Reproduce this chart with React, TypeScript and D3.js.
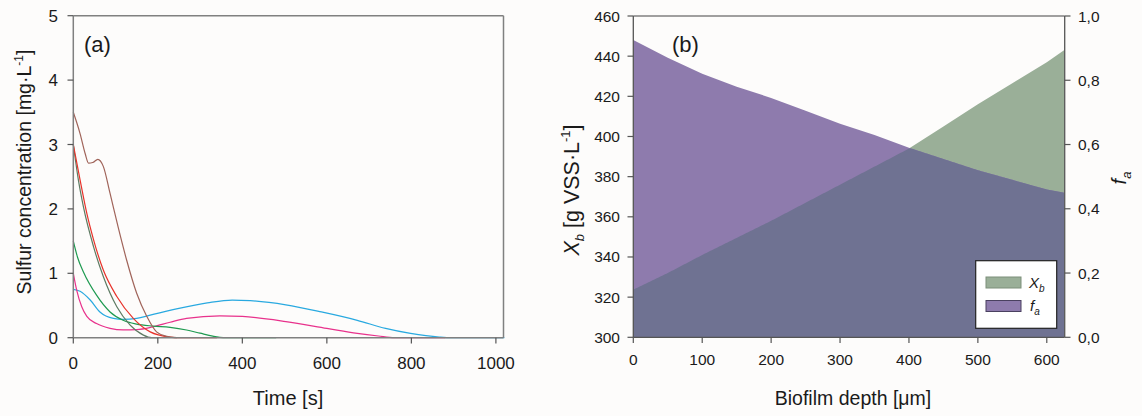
import React from "react";
import * as d3 from "d3";

// ---------- Panel (a) data ----------
const brownT = [0, 16, 28, 36, 46, 58, 71, 87, 106, 126, 150, 174, 197, 221, 245];
const brownC = [3.5, 3.17, 2.86, 2.71, 2.72, 2.77, 2.66, 2.24, 1.72, 1.21, 0.69, 0.33, 0.09, 0.02, 0];
const redT = [0, 16, 32, 48, 71, 103, 142, 182, 228, 250, 340];
const redC = [3.0, 2.45, 1.93, 1.52, 1.05, 0.64, 0.3, 0.09, 0.01, 0, 0];
const oliveT = [0, 12, 24, 48, 71, 103, 134, 166, 185, 200];
const oliveC = [3.0, 2.45, 2.03, 1.41, 0.95, 0.48, 0.2, 0.04, 0, 0];
const greenT = [0, 10, 24, 55, 87, 118, 150, 189, 229, 268, 300, 330, 355, 480];
const greenC = [1.5, 1.25, 1.02, 0.66, 0.4, 0.27, 0.21, 0.18, 0.16, 0.12, 0.07, 0.025, 0, 0];
const pinkT = [0, 8, 20, 32, 55, 87, 118, 150, 189, 229, 268, 347, 400, 503, 600, 672, 722, 760, 880];
const pinkC = [1.0, 0.74, 0.48, 0.33, 0.22, 0.145, 0.12, 0.125, 0.17, 0.24, 0.3, 0.34, 0.33, 0.25, 0.145, 0.067, 0.026, 0, 0];
const blueT = [0, 16, 40, 63, 95, 118, 150, 182, 250, 317, 376, 419, 503, 587, 672, 739, 798, 866, 895, 1020];
const blueC = [0.75, 0.72, 0.585, 0.4, 0.3, 0.285, 0.3, 0.35, 0.456, 0.54, 0.585, 0.575, 0.51, 0.4, 0.27, 0.145, 0.067, 0.01, 0, 0];

const seriesA = [
  { name: "blue", t: blueT, c: blueC, color: "#29a9e0" },
  { name: "pink", t: pinkT, c: pinkC, color: "#e8328c" },
  { name: "green", t: greenT, c: greenC, color: "#1e9a50" },
  { name: "olive", t: oliveT, c: oliveC, color: "#5d7a62" },
  { name: "red", t: redT, c: redC, color: "#e8322a" },
  { name: "brown", t: brownT, c: brownC, color: "#a0645a" },
];
const xTicksA = [0, 200, 400, 600, 800, 1000];
const yTicksA = [0, 1, 2, 3, 4, 5];

// ---------- Panel (b) data ----------
const depth = [0, 50, 100, 150, 200, 250, 300, 350, 400, 450, 500, 550, 600, 625];
const fa = [0.925, 0.87, 0.82, 0.78, 0.745, 0.705, 0.665, 0.63, 0.59, 0.555, 0.52, 0.49, 0.46, 0.45];
const xb = [323.7, 332, 341, 349.5, 358, 367, 376, 385, 394, 405, 416, 426.5, 437, 443];
const xTicksB = [0, 100, 200, 300, 400, 500, 600];
const yTicksBL = [300, 320, 340, 360, 380, 400, 420, 440, 460];
const yTicksBR = [0, 0.2, 0.4, 0.6, 0.8, 1.0];

const FONT = "'Liberation Sans', Arial, sans-serif";
const AX = "#555";
const FRAME = "#808080";

export default function App() {
  const xA = d3.scaleLinear().domain([0, 1018]).range([73.3, 503.5]);
  const yA = d3.scaleLinear().domain([0, 5]).range([337.7, 15.7]);
  const line = (t: number[], c: number[]) =>
    d3
      .line<number>()
      .x((_, i) => xA(t[i]))
      .y((_, i) => yA(c[i]))
      .curve(d3.curveMonotoneX)(t.map((_, i) => i)) || "";

  const xB = d3.scaleLinear().domain([0, 626]).range([633.3, 1064.7]);
  const yBL = d3.scaleLinear().domain([300, 460]).range([337.3, 16]);
  const yBR = d3.scaleLinear().domain([0, 1]).range([337.3, 16]);
  const idx = depth.map((_, i) => i);
  const areaXb = d3
    .area<number>()
    .x((i) => xB(depth[i]))
    .y0(yBL(300))
    .y1((i) => yBL(xb[i]))(idx) || "";
  const areaFa = d3
    .area<number>()
    .x((i) => xB(depth[i]))
    .y0(yBR(0))
    .y1((i) => yBR(fa[i]))(idx) || "";
  const interp = (arr: number[], d: number) => d3.scaleLinear().domain(depth).range(arr)(d);
  const fine = d3.range(0, 626, 2).concat([625]);
  const areaOv = d3
    .area<number>()
    .x((d) => xB(d))
    .y0(yBR(0))
    .y1((d) => Math.max(yBL(interp(xb, d)), yBR(interp(fa, d))))(fine) || "";

  return (
    <svg width={1142} height={416} style={{ display: "block", position: "absolute", left: 0, top: 0 }} fontFamily={FONT}>
      <rect x={0} y={0} width={1142} height={416} fill="#fdfcfb" />
      {/* ================= Panel A ================= */}
      <g>
        {seriesA.map((s) => (
          <path key={s.name} d={line(s.t, s.c)} fill="none" stroke={s.color} strokeWidth={1.2} />
        ))}
        <line x1={73.3} x2={503.5} y1={15.7} y2={15.7} stroke={FRAME} strokeWidth={1.5} />
        <line x1={503.5} x2={503.5} y1={15.7} y2={337.7} stroke={FRAME} strokeWidth={1.5} />
        <line x1={73.3} x2={503.5} y1={337.7} y2={337.7} stroke={FRAME} strokeWidth={1.5} />
        <line x1={73.3} x2={73.3} y1={15.7} y2={337.7} stroke={FRAME} strokeWidth={1.5} />
        {yTicksA.map((v) => (
          <g key={v}>
            <line x1={67.5} x2={73.3} y1={yA(v)} y2={yA(v)} stroke={AX} strokeWidth={1.2} />
            <text x={58} y={yA(v) + 6} textAnchor="end" fontSize={17} fill="#1a1a1a">
              {v}
            </text>
          </g>
        ))}
        {xTicksA.map((v) => (
          <g key={v}>
            <line x1={xA(v)} x2={xA(v)} y1={337.7} y2={343.5} stroke={AX} strokeWidth={1.2} />
            <text x={xA(v)} y={369} textAnchor="middle" fontSize={17} fill="#1a1a1a">
              {v}
            </text>
          </g>
        ))}
        <text x={288} y={405} textAnchor="middle" fontSize={20} fill="#1a1a1a">
          Time [s]
        </text>
        <text transform="translate(31,172) rotate(-90)" textAnchor="middle" fontSize={19.5} fill="#1a1a1a">
          Sulfur concentration [mg·L
          <tspan dy={-8} fontSize={12}>-1</tspan>
          <tspan dy={8}>]</tspan>
        </text>
        <text x={84} y={52} fontSize={22} fill="#1a1a1a">
          (a)
        </text>
      </g>

      {/* ================= Panel B ================= */}
      <g>
        <path d={areaXb} fill="#9aaf98" />
        <path d={areaFa} fill="#8e7bad" />
        <path d={areaOv} fill="#6f7292" />
        <line x1={633.3} x2={1064.7} y1={16} y2={16} stroke={FRAME} strokeWidth={1.5} />
        <line x1={633.3} x2={633.3} y1={16} y2={337.3} stroke={AX} strokeWidth={1.3} />
        <line x1={1064.7} x2={1064.7} y1={16} y2={337.3} stroke={AX} strokeWidth={1.3} />
        <line x1={633.3} x2={1064.7} y1={337.3} y2={337.3} stroke={AX} strokeWidth={1.3} />
        {yTicksBL.map((v) => (
          <g key={v}>
            <line x1={627.5} x2={633.3} y1={yBL(v)} y2={yBL(v)} stroke={AX} strokeWidth={1.2} />
            <text x={620} y={yBL(v) + 5.5} textAnchor="end" fontSize={15.5} fill="#1a1a1a">
              {v}
            </text>
          </g>
        ))}
        {yTicksBR.map((v) => (
          <g key={v}>
            <line x1={1064.7} x2={1070.5} y1={yBR(v)} y2={yBR(v)} stroke={AX} strokeWidth={1.2} />
            <text x={1078} y={yBR(v) + 5.5} textAnchor="start" fontSize={15.5} fill="#1a1a1a">
              {d3.format(".1f")(v).replace(".", ",")}
            </text>
          </g>
        ))}
        {xTicksB.map((v) => (
          <g key={v}>
            <line x1={xB(v)} x2={xB(v)} y1={337.3} y2={343} stroke={AX} strokeWidth={1.2} />
            <text x={xB(v)} y={365} textAnchor="middle" fontSize={15.5} fill="#1a1a1a">
              {v}
            </text>
          </g>
        ))}
        <text x={853} y={405} textAnchor="middle" fontSize={19.5} fill="#1a1a1a">
          Biofilm depth [μm]
        </text>
        <text transform="translate(579,190) rotate(-90)" textAnchor="middle" fontSize={21.5} fill="#1a1a1a">
          <tspan fontStyle="italic">X</tspan>
          <tspan dy={5} fontSize={13} fontStyle="italic">b</tspan>
          <tspan dy={-5}> [g VSS·L</tspan>
          <tspan dy={-9} fontSize={13}>-1</tspan>
          <tspan dy={9}>]</tspan>
        </text>
        <text transform="translate(1126,178) rotate(-90)" textAnchor="middle" fontSize={20} fill="#1a1a1a">
          <tspan fontStyle="italic">f</tspan>
          <tspan dy={5} fontSize={13} fontStyle="italic">a</tspan>
        </text>
        <text x={672} y={52} fontSize={22} fill="#1a1a1a">
          (b)
        </text>
        {/* legend */}
        <rect x={975.7} y={260.7} width={81} height={67.6} fill="#ffffff" stroke="#222" strokeWidth={1.2} />
        <rect x={986} y={277} width={35} height={11} fill="#9aaf98" stroke="#7c8f7a" strokeWidth={1} />
        <rect x={986} y={300.5} width={35} height={11} fill="#8e7bad" stroke="#4a4060" strokeWidth={1} />
        <text x={1029} y={288} fontSize={15} fill="#1a1a1a">
          <tspan fontStyle="italic">X</tspan>
          <tspan dy={4} fontSize={10} fontStyle="italic">b</tspan>
        </text>
        <text x={1030} y={311} fontSize={15} fill="#1a1a1a">
          <tspan fontStyle="italic">f</tspan>
          <tspan dy={4} fontSize={10} fontStyle="italic">a</tspan>
        </text>
      </g>
    </svg>
  );
}
